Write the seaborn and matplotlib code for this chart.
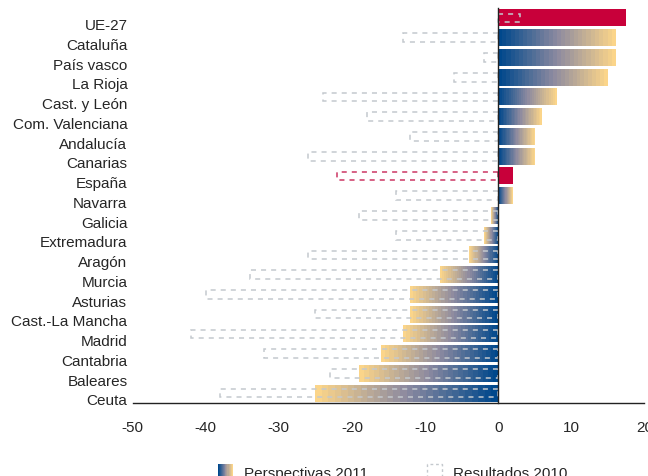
import numpy as np
import pandas as pd
import matplotlib
matplotlib.use("Agg")
import matplotlib.pyplot as plt
import seaborn as sns
from matplotlib.colors import LinearSegmentedColormap
from matplotlib.patches import Rectangle
from matplotlib.legend_handler import HandlerBase

# data
regions = ["UE-27", "Cataluña", "País vasco", "La Rioja", "Cast. y León",
           "Com. Valenciana", "Andalucía", "Canarias", "España", "Navarra",
           "Galicia", "Extremadura", "Aragón", "Murcia", "Asturias",
           "Cast.-La Mancha", "Madrid", "Cantabria", "Baleares", "Ceuta"]
perspectivas_2011 = [17.5, 16, 16, 15, 8, 6, 5, 5, 2, 2,
                     -1, -2, -4, -8, -12, -12, -13, -16, -19, -25]
resultados_2010 = [3, -13, -2, -6, -24, -18, -12, -26, -22, -14,
                   -19, -14, -26, -34, -40, -25, -42, -32, -23, -38]
highlight = ["UE-27", "España"]
x_ticks = [-50, -40, -30, -20, -10, 0, 10, 20]

RED = "#C8003A"
RED_DASH = "#CC3563"
GREY_DASH = "#C4C9CE"
grad_cmap = LinearSegmentedColormap.from_list(
    "persp", ["#00488C", "#8C8AA0", "#FBD58A"], N=28)

sns.set_style("white")
plt.rcParams["font.family"] = ["Liberation Sans", "DejaVu Sans"]
plt.rcParams["axes.unicode_minus"] = False

df = pd.DataFrame({"region": regions, "persp": perspectivas_2011,
                   "result": resultados_2010})

fig = plt.figure(figsize=(6.48, 4.77), dpi=100)
ax = fig.add_axes([0.2045, 0.153, 0.790, 0.828])

# Perspectivas 2011 bars
sns.barplot(data=df, x="persp", y="region", orient="h", color="white",
            width=0.86, linewidth=0, ax=ax, zorder=2)
bars = list(ax.patches)
grad = np.linspace(0, 1, 28).reshape(1, -1)
for name, p in zip(regions, bars):
    if name in highlight:
        p.set_facecolor(RED)
        continue
    x0, w = p.get_x(), p.get_width()
    y0, h = p.get_y(), p.get_height()
    ax.imshow(grad, extent=(x0, x0 + w, y0 + h, y0), cmap=grad_cmap,
              aspect="auto", interpolation="nearest", zorder=2)
    p.set_visible(False)

# Resultados 2010 dashed boxes
sns.barplot(data=df, x="result", y="region", orient="h", fill=False,
            width=0.44, color=GREY_DASH, linewidth=1.1,
            linestyle=(0, (3.3, 3.3)), ax=ax, zorder=3)
boxes = list(ax.patches)[len(bars):]
for name, p in zip(regions, boxes):
    p.set_edgecolor(RED_DASH if name == "España" else GREY_DASH)
    p.set_facecolor("none")
    p.set_zorder(3)

n = len(regions)
ax.set_xlim(-50, 20)
ax.set_ylim(n - 0.5, -0.5)
ax.set_xticks(x_ticks)
ax.set_xticklabels([str(t) for t in x_ticks], fontsize=11)
ax.set_yticks(np.arange(n + 1) - 0.5)
ax.set_yticklabels([])
ax.set_xlabel("")
ax.set_ylabel("")

ax.spines["top"].set_visible(False)
ax.spines["right"].set_visible(False)
ax.spines["left"].set_position(("data", 0))
for s in ["left", "bottom"]:
    ax.spines[s].set_color("#222222")
    ax.spines[s].set_linewidth(1.0)
    ax.spines[s].set_zorder(4)
ax.tick_params(axis="y", direction="out", length=3, width=1, color="#222222")
ax.tick_params(axis="x", direction="out", length=2.5, width=1,
               color="#222222", pad=9.5)

for i, name in enumerate(regions):
    ax.text(-0.01, i + 0.37, name, transform=ax.get_yaxis_transform(),
            ha="right", va="center", fontsize=11)


class GradientHandler(HandlerBase):
    def create_artists(self, legend, orig_handle, xdescent, ydescent,
                       width, height, fontsize, trans):
        steps = 14
        out = []
        for k in range(steps):
            r = Rectangle((-xdescent + width * k / steps, -ydescent),
                          width / steps + 0.05, height,
                          facecolor=grad_cmap(k / (steps - 1)),
                          edgecolor="none", transform=trans)
            out.append(r)
        return out


persp_handle = Rectangle((0, 0), 1, 1)
res_handle = Rectangle((0, 0), 1, 1, fill=False, edgecolor=GREY_DASH,
                       linewidth=1.0, linestyle=(0, (2, 2)))
fig.legend([persp_handle, res_handle], ["Perspectivas 2011", "Resultados 2010"],
           handler_map={persp_handle: GradientHandler()},
           loc="center", bbox_to_anchor=(0.606, 0.008), ncol=2, frameon=False,
           fontsize=11, handlelength=1.0, handleheight=1.1,
           handletextpad=0.75, columnspacing=3.8)

fig.savefig("out.png", dpi=100)
